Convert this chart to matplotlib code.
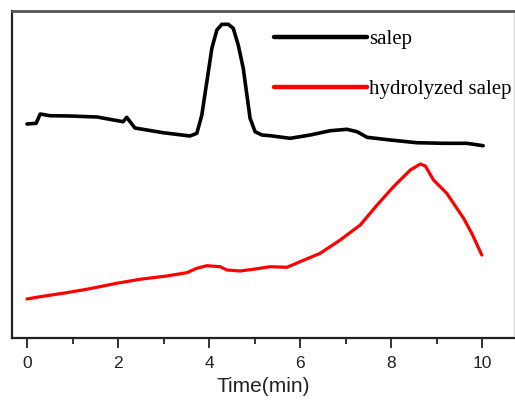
import numpy as np
import matplotlib.pyplot as plt

# 数据：从图上读取（纵轴为任意单位）
t_salep = [0, 0.2, 0.29, 0.5, 0.95, 1.54, 2.11, 2.19, 2.37, 2.99, 3.58, 3.73,
           3.84, 3.95, 4.06, 4.17, 4.28, 4.42, 4.53, 4.64, 4.75, 4.83, 4.90,
           5.01, 5.16, 5.34, 5.78, 6.22, 6.66, 7.03, 7.25, 7.47, 7.98, 8.56,
           9.15, 9.66, 10.02]
y_salep = [214, 214.7, 224, 222.3, 222, 221, 216.3, 220.7, 210, 205.3, 202, 204.7,
           223, 256.3, 289.7, 308, 313.7, 313.7, 309.7, 293, 269.7, 243, 219.7,
           206.3, 203, 202.3, 199.7, 203, 207.3, 208.7, 206.3, 200.7, 198, 195.3,
           194.7, 194.7, 192.3]

t_hydro = [0, 0.29, 0.87, 1.31, 1.97, 2.48, 3.07, 3.51, 3.73, 3.95, 4.24, 4.39,
           4.68, 4.97, 5.34, 5.71, 6.0, 6.44, 6.88, 7.32, 7.69, 8.05, 8.42,
           8.64, 8.75, 8.93, 9.22, 9.59, 9.77, 9.99]
y_hydro = [39, 41.3, 45.3, 48.7, 54.7, 58.7, 62, 65.3, 69.7, 72.3, 71.3, 68,
           67, 68.7, 71.3, 70.7, 76.3, 84.7, 98, 113, 133, 151.3, 168,
           174, 172, 158, 144.7, 119.7, 104.7, 83]

labels = ['salep', 'hydrolyzed salep']

fig = plt.figure(figsize=(5.15, 4.08), dpi=100)
ax = fig.add_axes([0.0233, 0.1716, 0.975, 0.8014])

ax.plot(t_salep, y_salep, color='black', lw=2.6, label=labels[0],
        solid_joinstyle='round', solid_capstyle='round')
ax.plot(t_hydro, y_hydro, color='#ff0000', lw=2.3, label=labels[1],
        solid_joinstyle='round', solid_capstyle='round')

ax.set_xlim(-0.33, 10.7)
ax.set_ylim(0, 327)
ax.set_yticks([])
ax.set_xticks(range(0, 11, 2))
ax.set_xticks(range(1, 11, 2), minor=True)
ax.tick_params(axis='x', which='major', direction='out', length=7, width=1.3,
               labelsize=12.5, pad=6, colors='#222222')
ax.tick_params(axis='x', which='minor', direction='out', length=4, width=1.3,
               colors='#222222')
for lab in ax.get_xticklabels():
    lab.set_fontfamily('Liberation Sans')
ax.set_xlabel('Time(min)', fontsize=15, family='Liberation Sans', labelpad=4,
              color='#222222')

for s in ['left', 'bottom']:
    ax.spines[s].set_linewidth(1.6)
    ax.spines[s].set_color('#222222')
ax.spines['top'].set_linewidth(2.0)
ax.spines['top'].set_color('#555555')
ax.spines['right'].set_linewidth(1.0)
ax.spines['right'].set_color('#dddddd')

leg = ax.legend(loc='upper left', bbox_to_anchor=(0.506, 0.968), frameon=False,
                prop={'family': 'Liberation Serif', 'size': 15},
                handlelength=4.45, handletextpad=0.08, labelspacing=1.45,
                borderaxespad=0)
for h in leg.get_lines():
    h.set_linewidth(3.2)

fig.savefig('out.png', dpi=100)
